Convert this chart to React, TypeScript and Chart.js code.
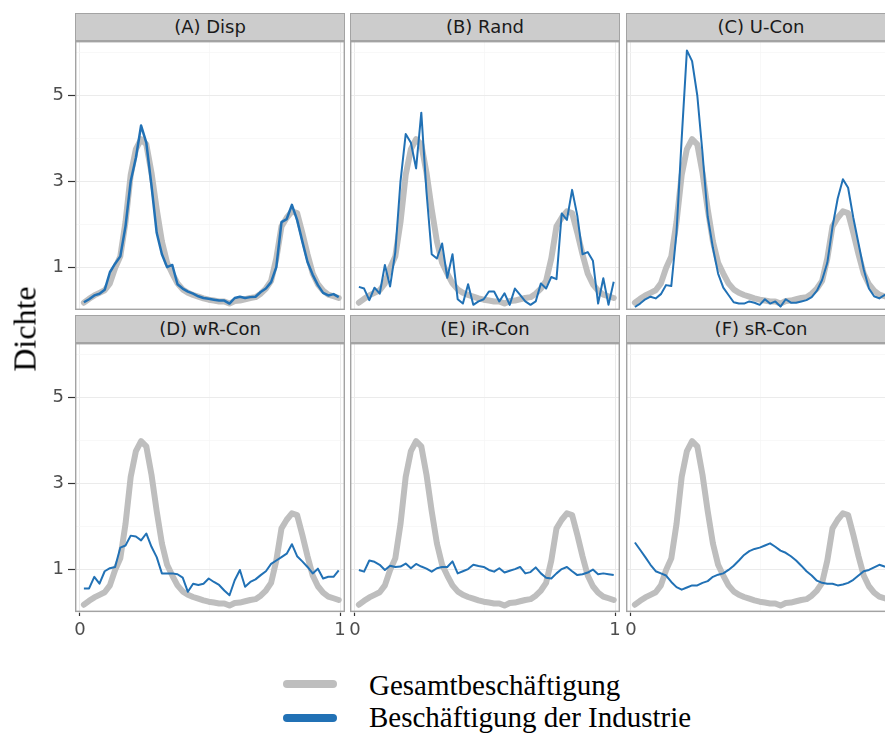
import React, { useEffect, useRef } from "react";
import { Chart, registerables } from "chart.js";

Chart.register(...registerables);

// Positions on the normalised axis where the densities are evaluated
const positions = [
  0.015, 0.035, 0.055, 0.075, 0.095, 0.115, 0.135, 0.155, 0.175, 0.195,
  0.215, 0.235, 0.255, 0.275, 0.295, 0.315, 0.335, 0.355, 0.375, 0.395,
  0.415, 0.435, 0.455, 0.475, 0.495, 0.515, 0.535, 0.555, 0.575, 0.595,
  0.615, 0.635, 0.655, 0.675, 0.695, 0.715, 0.735, 0.755, 0.775, 0.795,
  0.815, 0.835, 0.855, 0.875, 0.895, 0.915, 0.935, 0.955, 0.975, 0.995,
];

// Density of total employment (identical in every panel)
const gesamt = [
  0.17, 0.26, 0.34, 0.40, 0.46, 0.62, 0.98, 1.25, 2.05, 3.15,
  3.75, 3.98, 3.86, 3.20, 2.35, 1.60, 1.10, 0.85, 0.62, 0.48,
  0.40, 0.35, 0.31, 0.27, 0.24, 0.22, 0.20, 0.20, 0.15, 0.21,
  0.22, 0.25, 0.28, 0.30, 0.38, 0.50, 0.68, 1.20, 1.95, 2.15,
  2.30, 2.26, 1.80, 1.30, 0.85, 0.60, 0.45, 0.36, 0.32, 0.28,
];

// Density of industry employment, one array per scenario
const dispInd = [
  0.18, 0.25, 0.34, 0.38, 0.47, 0.88, 1.08, 1.25, 1.95, 3.00,
  3.55, 4.30, 3.90, 2.90, 1.80, 1.30, 1.00, 1.05, 0.60, 0.50,
  0.43, 0.38, 0.32, 0.28, 0.26, 0.24, 0.22, 0.22, 0.15, 0.28,
  0.31, 0.28, 0.30, 0.31, 0.42, 0.50, 0.65, 1.00, 2.05, 2.12,
  2.45, 2.10, 1.60, 1.12, 0.82, 0.58, 0.40, 0.34, 0.37, 0.30,
];
const randInd = [
  0.54, 0.50, 0.23, 0.52, 0.38, 1.05, 0.55, 1.35, 3.00, 4.10,
  3.90, 3.30, 4.60, 2.75, 1.30, 1.20, 1.55, 0.75, 1.30, 0.25,
  0.15, 0.60, 0.12, 0.20, 0.25, 0.43, 0.43, 0.20, 0.39, 0.12,
  0.50, 0.35, 0.20, 0.12, 0.20, 0.62, 0.50, 0.77, 0.72, 2.25,
  2.10, 2.80, 2.20, 1.30, 1.35, 1.15, 0.15, 0.74, 0.12, 0.66,
];
const uconInd = [
  0.07, 0.15, 0.25, 0.31, 0.27, 0.37, 0.58, 0.56, 1.80, 4.00,
  6.05, 5.80, 5.00, 3.66, 2.18, 1.45, 0.85, 0.52, 0.35, 0.18,
  0.15, 0.15, 0.20, 0.17, 0.12, 0.25, 0.15, 0.20, 0.08, 0.25,
  0.17, 0.17, 0.20, 0.23, 0.30, 0.45, 0.70, 1.10, 1.94, 2.60,
  3.05, 2.85, 2.15, 1.55, 0.95, 0.50, 0.32, 0.27, 0.35, 0.30,
];
const wrconInd = [
  0.55, 0.55, 0.82, 0.66, 0.95, 1.02, 1.05, 1.50, 1.55, 1.78,
  1.76, 1.67, 1.83, 1.52, 1.28, 0.90, 0.90, 0.90, 0.88, 0.80,
  0.47, 0.66, 0.63, 0.66, 0.78, 0.70, 0.63, 0.50, 0.39, 0.74,
  0.98, 0.59, 0.70, 0.76, 0.86, 0.95, 1.12, 1.20, 1.28, 1.36,
  1.58, 1.30, 1.18, 1.05, 0.90, 1.01, 0.78, 0.82, 0.82, 0.97,
];
const irconInd = [
  0.98, 0.94, 1.20, 1.17, 1.10, 0.98, 1.08, 1.05, 1.06, 1.13,
  1.02, 1.12, 1.06, 1.01, 0.94, 1.02, 1.05, 1.05, 1.18, 0.90,
  0.95, 1.00, 1.10, 1.07, 1.05, 0.98, 0.94, 1.02, 0.92, 0.96,
  1.00, 1.05, 0.90, 0.93, 1.04, 0.90, 0.80, 0.78, 0.90, 1.00,
  1.05, 0.95, 0.86, 0.88, 0.92, 0.99, 0.88, 0.90, 0.88, 0.86,
];
const srconInd = [
  1.62, 1.45, 1.28, 1.10, 0.95, 0.90, 0.85, 0.70, 0.58, 0.52,
  0.57, 0.62, 0.62, 0.68, 0.72, 0.82, 0.87, 0.90, 0.98, 1.08,
  1.20, 1.33, 1.42, 1.47, 1.50, 1.55, 1.60, 1.52, 1.43, 1.38,
  1.30, 1.20, 1.08, 0.95, 0.85, 0.73, 0.68, 0.66, 0.66, 0.62,
  0.64, 0.68, 0.75, 0.85, 0.95, 0.98, 1.04, 1.10, 1.06, 1.05,
];

const panelTitles = ["(A) Disp", "(B) Rand", "(C) U-Con", "(D) wR-Con", "(E) iR-Con", "(F) sR-Con"];
const panelSeries = [dispInd, randInd, uconInd, wrconInd, irconInd, srconInd];

const xTickValues = [0, 0.5, 1];
const xTickLabels = ["0", "", "1"];
const yTickValues = [0, 1, 2, 3, 4, 5, 6];
const yTickLabels = ["", "1", "", "3", "", "5", ""];

const yTitle = "Dichte";
const legendLabels = ["Gesamtbeschäftigung", "Beschäftigung der Industrie"];

// Styling and layout
const GRAY = "#BEBEBE";
const BLUE = "#2171B5";
const GRID_MAJOR = "#EBEBEB";
const GRID_MINOR = "#F5F5F5";
const TICK_COLOR = "#4D4D4D";
const SANS = "'DejaVu Sans', 'Liberation Sans', sans-serif";
const SERIF = "'Liberation Serif', 'DejaVu Serif', serif";

const PLOT_W = 270;
const PLOT_H = 269;
const COL_LEFT = [75, 350, 626];
const ROW_TOP = [41, 343];
const STRIP_H = 28;
const Y_AXIS_W = 75;
const X_AXIS_H = 40;
const X_MIN = -0.0192;
const X_MAX = 1.0192;
const Y_MIN = 0;
const Y_MAX = 6.27;

const panelFrame = {
  id: "panelFrame",
  afterDatasetsDraw(chart: any) {
    const { ctx, chartArea: a } = chart;
    ctx.save();
    ctx.strokeStyle = "#A3A3A3";
    ctx.lineWidth = 1.4;
    ctx.strokeRect(a.left + 0.7, a.top + 0.7, a.right - a.left - 1.4, a.bottom - a.top - 1.4);
    ctx.restore();
  },
};

function Panel({ index }: { index: number }) {
  const ref = useRef<HTMLCanvasElement>(null);
  const col = index % 3;
  const row = Math.floor(index / 3);
  const showY = col === 0;
  const showX = row === 1;
  const left = COL_LEFT[col] - (showY ? Y_AXIS_W : 0);
  const top = ROW_TOP[row];
  const width = PLOT_W + (showY ? Y_AXIS_W : 0);
  const height = PLOT_H + (showX ? X_AXIS_H : 0);

  useEffect(() => {
    const industry = panelSeries[index];
    const chart = new Chart(ref.current as HTMLCanvasElement, {
      type: "line",
      data: {
        datasets: [
          {
            label: legendLabels[1],
            data: positions.map((x, i) => ({ x, y: industry[i] })),
            borderColor: BLUE,
            borderWidth: index === 0 ? 2.5 : 2,
            pointRadius: 0,
            tension: 0,
            borderJoinStyle: "round",
          },
          {
            label: legendLabels[0],
            data: positions.map((x, i) => ({ x, y: gesamt[i] })),
            borderColor: GRAY,
            borderWidth: 6,
            pointRadius: 0,
            tension: 0,
            borderJoinStyle: "round",
            borderCapStyle: "round",
          },
        ],
      },
      options: {
        responsive: false,
        animation: false,
        events: [],
        layout: { padding: 0 },
        plugins: {
          legend: { display: false },
          tooltip: { enabled: false },
          title: { display: false },
        },
        scales: {
          x: {
            type: "linear",
            min: X_MIN,
            max: X_MAX,
            afterBuildTicks: (s: any) => {
              s.ticks = xTickValues.map((v) => ({ value: v }));
            },
            afterFit: (s: any) => {
              s.height = showX ? X_AXIS_H : 0;
              s.paddingLeft = 0;
              s.paddingRight = 0;
            },
            border: { display: false },
            grid: {
              color: (c: any) => (xTickValues[c.index] === 0.5 ? GRID_MINOR : GRID_MAJOR),
              lineWidth: (c: any) => (xTickValues[c.index] === 0.5 ? 0.7 : 1),
              drawTicks: showX,
              tickLength: 4,
              tickWidth: 1.2,
              tickColor: (c: any) => (xTickValues[c.index] === 0.5 ? "rgba(0,0,0,0)" : "#333333"),
            },
            ticks: {
              display: showX,
              autoSkip: false,
              maxRotation: 0,
              padding: 4,
              color: TICK_COLOR,
              font: { family: SANS, size: 18 },
              callback: (_v: any, i: number) => xTickLabels[i],
            },
          },
          y: {
            type: "linear",
            min: Y_MIN,
            max: Y_MAX,
            afterBuildTicks: (s: any) => {
              s.ticks = yTickValues.map((v) => ({ value: v }));
            },
            afterFit: (s: any) => {
              s.width = showY ? Y_AXIS_W : 0;
              s.paddingTop = 0;
              s.paddingBottom = 0;
            },
            border: { display: false },
            grid: {
              color: (c: any) => (yTickValues[c.index] % 2 === 1 ? GRID_MAJOR : GRID_MINOR),
              lineWidth: (c: any) => (yTickValues[c.index] % 2 === 1 ? 1 : 0.7),
              drawTicks: showY,
              tickLength: 7,
              tickWidth: 1.2,
              tickColor: (c: any) => (yTickValues[c.index] % 2 === 1 ? "#333333" : "rgba(0,0,0,0)"),
            },
            ticks: {
              display: showY,
              autoSkip: false,
              padding: 4,
              color: TICK_COLOR,
              font: { family: SANS, size: 18 },
              callback: (_v: any, i: number) => yTickLabels[i],
            },
          },
        },
      },
      plugins: [panelFrame],
    } as any);
    return () => chart.destroy();
  }, [index]);

  return (
    <>
      <div
        style={{
          position: "absolute",
          left: COL_LEFT[col],
          top: top - STRIP_H,
          width: PLOT_W,
          height: STRIP_H,
          boxSizing: "border-box",
          background: "#CCCCCC",
          border: "1.4px solid #A3A3A3",
          color: "#1A1A1A",
          font: `18px ${SANS}`,
          lineHeight: `${STRIP_H - 3}px`,
          textAlign: "center",
        }}
      >
        {panelTitles[index]}
      </div>
      <canvas
        ref={ref}
        width={width}
        height={height}
        style={{ position: "absolute", left, top, width, height }}
      />
    </>
  );
}

export default function App() {
  return (
    <div
      style={{
        position: "absolute",
        left: 0,
        top: 0,
        width: 885,
        height: 735,
        overflow: "hidden",
        background: "#FFFFFF",
      }}
    >
      {panelTitles.map((_, i) => (
        <Panel key={i} index={i} />
      ))}
      <div
        style={{
          position: "absolute",
          left: 25,
          top: 329,
          transform: "translate(-50%, -50%) rotate(-90deg)",
          font: `32px ${SERIF}`,
          color: "#000",
          whiteSpace: "nowrap",
        }}
      >
        {yTitle}
      </div>
      {legendLabels.map((label, i) => (
        <React.Fragment key={label}>
          <div
            style={{
              position: "absolute",
              left: 283,
              top: 680 + i * 33.5,
              width: 54,
              height: 8,
              borderRadius: 4,
              background: i === 0 ? GRAY : BLUE,
            }}
          />
          <div
            style={{
              position: "absolute",
              left: 369,
              top: 669 + i * 32,
              font: `29px ${SERIF}`,
              lineHeight: "32px",
              color: "#000",
              whiteSpace: "nowrap",
            }}
          >
            {label}
          </div>
        </React.Fragment>
      ))}
    </div>
  );
}
